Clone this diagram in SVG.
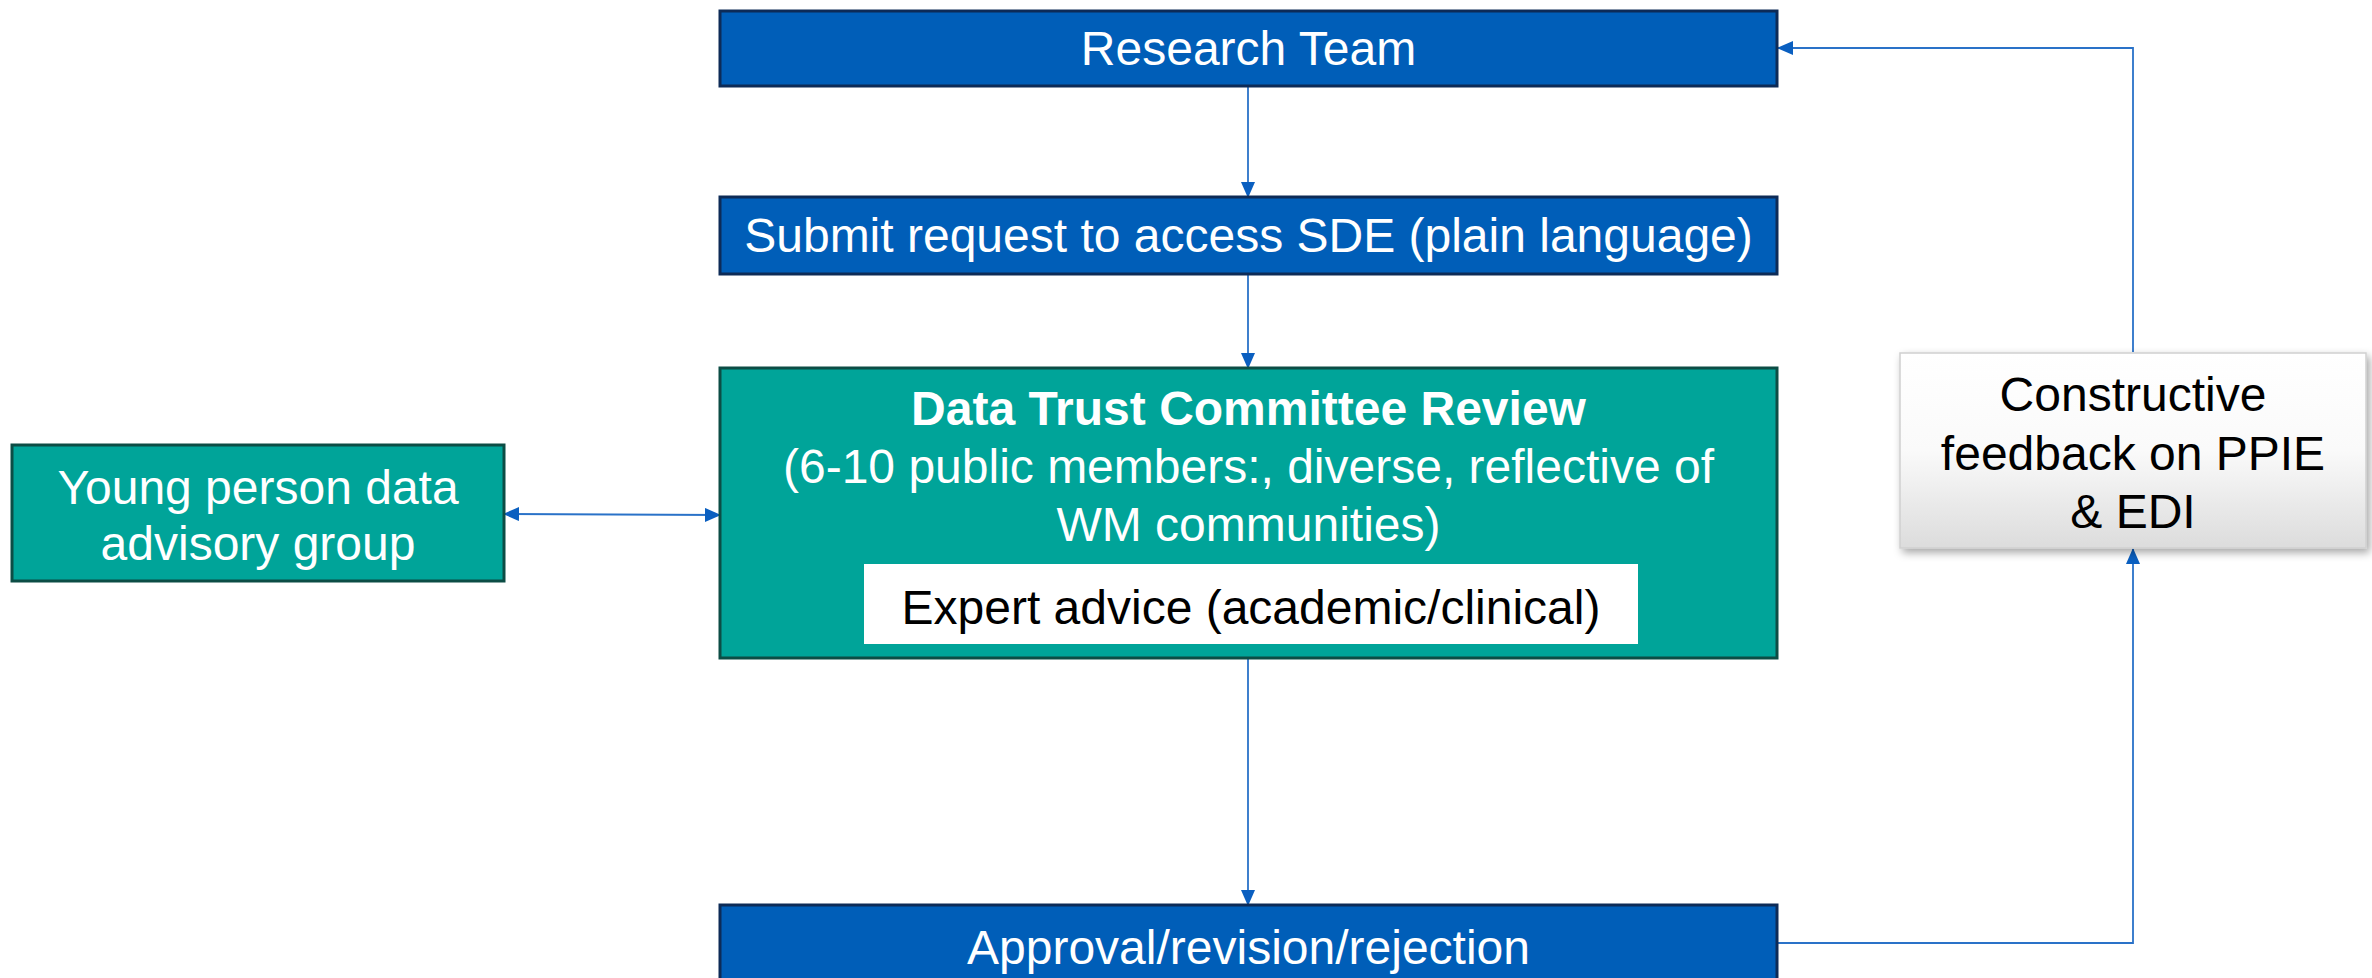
<svg xmlns="http://www.w3.org/2000/svg" width="2372" height="978" viewBox="0 0 2372 978">
<style>
text{font-family:"Liberation Sans",Arial,sans-serif;font-size:48px;text-anchor:middle}
.blue{fill:#005EB8;stroke:#0d2b57;stroke-width:3}
.teal{fill:#00A499;stroke:#0c4d45;stroke-width:3}
.wt{fill:#ffffff}
.bk{fill:#000000}
.conn{fill:none;stroke:#2a72c8;stroke-width:1.8}
</style>
<defs>
<marker id="ah" markerUnits="userSpaceOnUse" markerWidth="16" markerHeight="14" refX="15" refY="7" orient="auto-start-reverse">
<path d="M0,0 L16,7 L0,14 z" fill="#0a5fc0"/>
</marker>
<linearGradient id="gr" x1="0" y1="0" x2="0" y2="1">
<stop offset="0" stop-color="#ffffff"/>
<stop offset="0.5" stop-color="#fafafa"/>
<stop offset="1" stop-color="#dcdcdc"/>
</linearGradient>
<filter id="sh" x="-10%" y="-10%" width="125%" height="130%">
<feDropShadow dx="3" dy="4" stdDeviation="4" flood-color="#000" flood-opacity="0.35"/>
</filter>
</defs>
<rect width="2372" height="978" fill="#ffffff"/>

<g id="connectors">
<path class="conn" d="M1248,86 L1248,197" marker-end="url(#ah)"/>
<path class="conn" d="M1248,274 L1248,368" marker-end="url(#ah)"/>
<path class="conn" d="M1248,658 L1248,905" marker-end="url(#ah)"/>
<path class="conn" d="M504,514 L720,515" marker-start="url(#ah)" marker-end="url(#ah)"/>
<path class="conn" d="M1777,943 L2133,943 L2133,549" marker-end="url(#ah)"/>
<path class="conn" d="M2133,352 L2133,48 L1778,48" marker-end="url(#ah)"/>
</g>

<g id="research-team">
<rect class="blue" x="720" y="11" width="1057" height="75"/>
<text class="wt" x="1248.5" y="65">Research Team</text>
</g>

<g id="submit-request">
<rect class="blue" x="720" y="197" width="1057" height="77"/>
<text class="wt" x="1248.5" y="252">Submit request to access SDE (plain language)</text>
</g>

<g id="data-trust-committee">
<rect class="teal" x="720" y="368" width="1057" height="290"/>
<text class="wt" x="1248.5" y="425" font-weight="bold">Data Trust Committee Review</text>
<text class="wt" x="1248.5" y="483">(6-10 public members:, diverse,  reflective of</text>
<text class="wt" x="1248.5" y="541">WM communities)</text>
</g>

<g id="expert-advice">
<rect x="864" y="564" width="774" height="80" fill="#ffffff"/>
<text class="bk" x="1251" y="624">Expert advice (academic/clinical)</text>
</g>

<g id="young-person-group">
<rect class="teal" x="12" y="445" width="492" height="136"/>
<text class="wt" x="258" y="504">Young person data</text>
<text class="wt" x="258" y="560">advisory group</text>
</g>

<g id="constructive-feedback">
<rect x="1900" y="353" width="466" height="195" fill="url(#gr)" stroke="#d0d0d0" stroke-width="1.5" filter="url(#sh)"/>
<text class="bk" x="2133" y="411">Constructive</text>
<text class="bk" x="2133" y="470">feedback on PPIE</text>
<text class="bk" x="2133" y="528">&amp; EDI</text>
</g>

<g id="approval">
<rect class="blue" x="720" y="905" width="1057" height="80"/>
<text class="wt" x="1248.5" y="964">Approval/revision/rejection</text>
</g>
</svg>
